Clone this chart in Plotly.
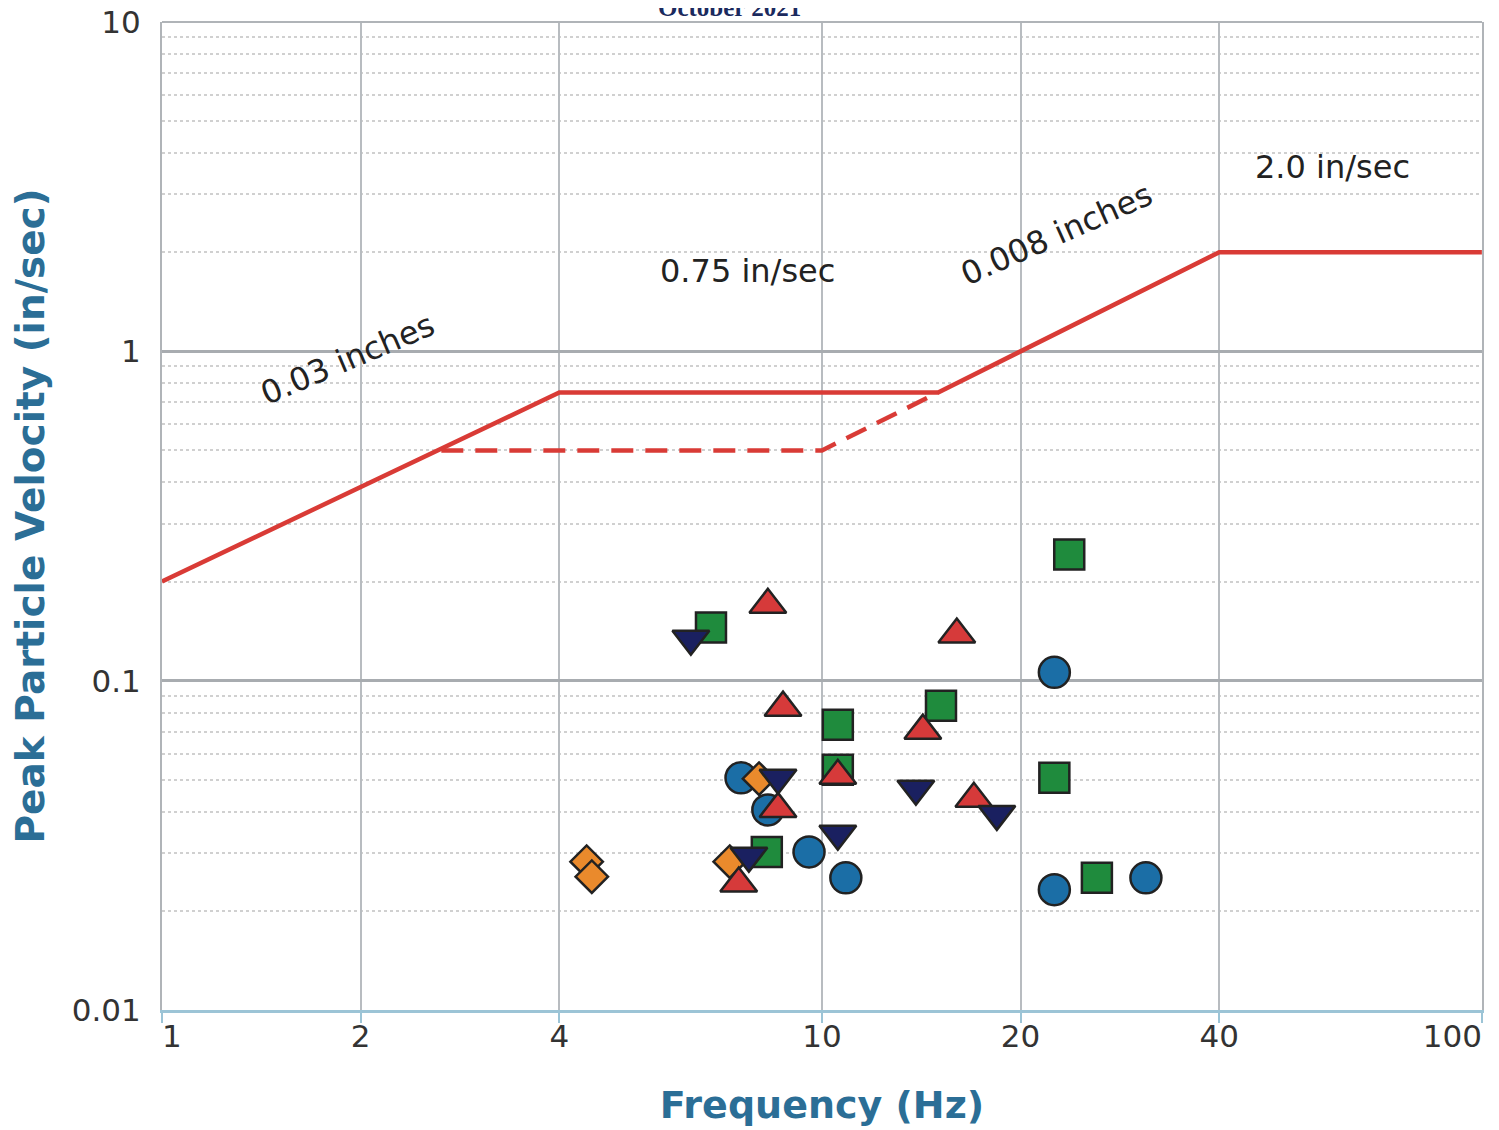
import math
import plotly.graph_objects as go

# ---- data ----
blue_freq = [7.54, 8.28, 9.56, 10.87, 22.5, 22.5, 30.97]
blue_ppv = [0.0507, 0.0405, 0.0302, 0.0252, 0.106, 0.0232, 0.0252]

orange_freq = [4.40, 4.48, 7.25, 8.03]
orange_ppv = [0.0282, 0.0254, 0.0282, 0.0504]

green_freq = [6.79, 10.57, 10.57, 8.25, 15.15, 23.7, 22.5, 26.1]
green_ppv = [0.145, 0.0735, 0.0536, 0.0302, 0.0839, 0.2415, 0.0507, 0.0252]

red_freq = [8.28, 8.73, 10.57, 8.58, 7.48, 16.01, 14.22, 16.99]
red_ppv = [0.170, 0.0828, 0.0514, 0.0408, 0.0242, 0.138, 0.0705, 0.0438]

navy_freq = [6.33, 8.58, 7.75, 10.57, 13.88, 18.41]
navy_ppv = [0.134, 0.0507, 0.0294, 0.0343, 0.047, 0.0394]

limit_freq = [1, 4, 15, 40, 100]
limit_ppv = [0.2, 0.75, 0.75, 2.0, 2.0]

alt_limit_freq = [2.65, 10, 15]
alt_limit_ppv = [0.5, 0.5, 0.75]

label_text = ["0.03 inches", "0.75 in/sec", "0.008 inches", "2.0 in/sec"]
label_freq = [1.91, 7.72, 22.7, 59.3]
label_ppv = [0.95, 1.75, 2.27, 3.63]
label_angle = [-23, 0, -24, 0]

x_ticks = [1, 2, 4, 10, 20, 40, 100]
x_tick_text = ["\u00a0\u00a01", "2", "4", "10", "20", "40", "100\u00a0\u00a0\u00a0\u00a0\u00a0\u00a0"]
y_ticks = [0.01, 0.1, 1, 10]
y_tick_text = ["0.01", "0.1", "1", "10"]
y_minor = [m * 10 ** e for e in (-2, -1, 0) for m in range(2, 10)]

LINE_RED = "#d93b36"
OUTLINE = "#222222"
TITLE_BLUE = "#2b6e96"

fig = go.Figure()

fig.add_trace(go.Scatter(x=limit_freq, y=limit_ppv, mode="lines",
                         line=dict(color=LINE_RED, width=4.5), hoverinfo="skip"))
fig.add_trace(go.Scatter(x=alt_limit_freq, y=alt_limit_ppv, mode="lines",
                         line=dict(color=LINE_RED, width=4.5, dash="22px,12px"),
                         hoverinfo="skip"))


def pts(xs, ys, symbol, color, size):
    fig.add_trace(go.Scatter(x=xs, y=ys, mode="markers",
                             marker=dict(symbol=symbol, color=color, size=size,
                                         line=dict(color=OUTLINE, width=2.5))))


pts(blue_freq, blue_ppv, "circle", "#1b6ea6", 31)
pts(orange_freq, orange_ppv, "diamond", "#ea8a2c", 25)
pts(green_freq, green_ppv, "square", "#1f8b3d", 30)
pts(red_freq, red_ppv, "triangle-up", "#d63a3a", 32)
pts(navy_freq, navy_ppv, "triangle-down", "#1a2060", 32)

label_font = dict(family="DejaVu Sans", size=32, color="#222222")
for t, fx, vy, ang in zip(label_text, label_freq, label_ppv, label_angle):
    fig.add_annotation(x=math.log10(fx), y=math.log10(vy), xref="x", yref="y",
                       text=t, textangle=ang, showarrow=False, font=label_font)

fig.add_annotation(x=0.43, y=1, xref="paper", yref="paper", text="<b>October 2021</b>",
                   showarrow=False, yanchor="bottom", yshift=-1,
                   font=dict(family="Liberation Serif", size=25, color="#1b2a5e"))

# top frame line
fig.add_shape(type="line", xref="paper", yref="paper", x0=0, x1=1, y0=1, y1=1,
              line=dict(color="#b0b4b8", width=2))

# the page body adds an 8px offset; size/margins compensate so the plot area
# sits at x 162..1482, y 22..1010 in the 1499x1130 window
fig.update_layout(
    width=1491, height=1122,
    margin=dict(l=154, r=17, t=14, b=120),
    paper_bgcolor="white", plot_bgcolor="white",
    showlegend=False,
    font=dict(family="DejaVu Sans", color="#333333"),
)

fig.update_xaxes(
    type="log", range=[0, 2.0002], automargin=False,
    tickmode="array", tickvals=x_ticks, ticktext=x_tick_text,
    tickfont=dict(family="DejaVu Sans", size=31, color="#333333"),
    ticks="outside", ticklen=10, tickcolor="#9cc4d6", tickwidth=2,
    ticklabelstandoff=-13, ticklabeloverflow="allow",
    showgrid=True, gridcolor="#b8bcc0", gridwidth=2,
    showline=True, linecolor="#9cc4d6", linewidth=3,
    title=dict(text="<b>Frequency (Hz)</b>", standoff=39,
               font=dict(family="DejaVu Sans", size=38, color=TITLE_BLUE)),
    zeroline=False,
)

fig.update_yaxes(
    type="log", range=[-2, 1], automargin=False,
    tickmode="array", tickvals=y_ticks, ticktext=y_tick_text,
    tickfont=dict(family="DejaVu Sans", size=31, color="#333333"),
    ticks="", ticklabelstandoff=13, ticklabeloverflow="allow",
    showgrid=True, gridcolor="#a8acb0", gridwidth=3,
    minor=dict(tickmode="array", tickvals=y_minor, showgrid=True,
               gridcolor="#d0d0d0", griddash="dot", gridwidth=1.5, ticks=""),
    showline=True, linecolor="#b0b4b8", linewidth=2, mirror=True,
    title=dict(text="<b>Peak Particle Velocity (in/sec)</b>", standoff=18,
               font=dict(family="DejaVu Sans", size=39, color=TITLE_BLUE)),
    zeroline=False,
)

fig.write_html("out.html")
